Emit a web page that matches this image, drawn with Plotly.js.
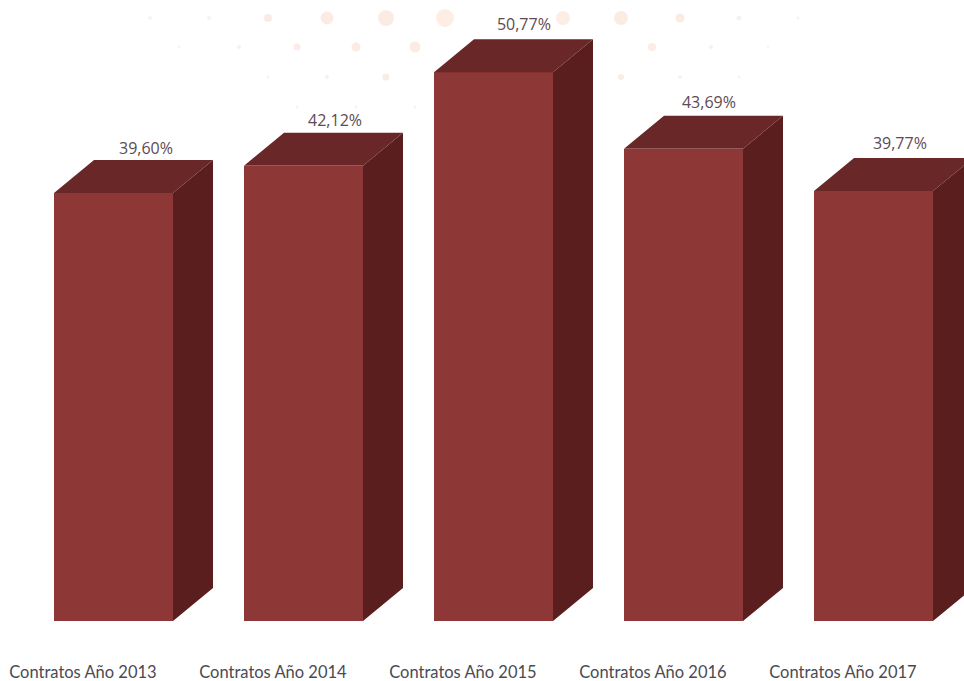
<!DOCTYPE html>
<html><head><meta charset="utf-8">
<script src="https://cdn.plot.ly/plotly-3.0.1.min.js"></script>
<style>html,body{margin:0;padding:0;background:#fff;overflow:hidden}#c{width:964px;height:681px}</style>
</head><body><div id="c"></div>
<script>
const categories = ["Contratos Año 2013","Contratos Año 2014","Contratos Año 2015","Contratos Año 2016","Contratos Año 2017"];
const values = [39.60,42.12,50.77,43.69,39.77];
const valueLabels = ["39,60%","42,12%","50,77%","43,69%","39,77%"];
const labelShift = [0.171,0.166,0.16,0.134,0.139];
const labelRise = [3.97,4.06,4.25,4.16,4.25];
// decorative background dots, in canvas pixels
const dotX = [150,209,268,327,386,445,563,621,680,739,798,179,239,297,356,415,652,711,768,268,327,386,621,680,739,297,356,415];
const dotY = [18,18,18,18,18,18,18,18,18,18,18,47,47,47,47,47,47,47,47,77,77,77,77,77,77,107,107,107];
const dotSize = [4,4,8,13,16,18,14,14,9,5,3,3,4,7,9,11,8,4,3,3,4,7,6,4,3,3,3,3];
const dotColor = ["#f0ecec","#f0ecec","#f8e2da","#fbe3d7","#fbe3d7","#fce5da","#fce5da","#fbe3d7","#fbe3d7","#efebea","#f3f0ef","#f3f0ef","#efebea","#fbe3dc","#fbe3d9","#fbe3d7","#fbe3dc","#efebea","#f3f0ef","#f3f0ef","#efebea","#fbe3d9","#fbe3dc","#f0ecec","#f3f0ef","#f3f0ef","#f3f0ef","#f3f0ef"];

const pxPerX = 190, pxPerY = 10.81;
const barW = 119/pxPerX, depthX = 40/pxPerX, depthY = 33/pxPerY;
const idx = categories.map((_,i)=>i);

const polys = (fn) => {
  const xs=[], ys=[];
  idx.forEach(i=>{ fn(i,values[i]).forEach(p=>{xs.push(p[0]);ys.push(p[1]);}); xs.push(null); ys.push(null); });
  return {xs,ys};
};
const side = polys((i,v)=>[[i+barW/2,0],[i+barW/2,v],[i+barW/2+depthX,v+depthY],[i+barW/2+depthX,depthY],[i+barW/2,0]]);
const top3d = polys((i,v)=>[[i-barW/2,v],[i-barW/2+depthX,v+depthY],[i+barW/2+depthX,v+depthY],[i+barW/2,v],[i-barW/2,v]]);

const traces = [
 {type:'scatter',mode:'markers',x:dotX,y:dotY,xaxis:'x',yaxis:'y',marker:{size:dotSize,color:dotColor,line:{width:0}},hoverinfo:'skip'},
 {type:'bar',x:idx,y:values,width:barW,xaxis:'x2',yaxis:'y2',marker:{color:'#8d3737',line:{width:0}},hoverinfo:'skip'},
 {type:'scatter',mode:'lines',x:side.xs,y:side.ys,xaxis:'x2',yaxis:'y2',fill:'toself',fillcolor:'#5a1e1e',line:{width:0},hoverinfo:'skip'},
 {type:'scatter',mode:'lines',x:top3d.xs,y:top3d.ys,xaxis:'x2',yaxis:'y2',fill:'toself',fillcolor:'#6a2727',line:{width:0},hoverinfo:'skip'},
 {type:'scatter',mode:'text',x:idx.map(i=>i+labelShift[i]),y:idx.map(i=>values[i]+labelRise[i]),text:valueLabels,xaxis:'x2',yaxis:'y2',textposition:'middle center',cliponaxis:false,
  textfont:{family:'"Open Sans",sans-serif',size:16,color:'#5e4a52'},hoverinfo:'skip'}
];
const layout = {
 width:964,height:681,showlegend:false,paper_bgcolor:'#fff',plot_bgcolor:'rgba(0,0,0,0)',
 margin:{l:0,r:0,t:0,b:60,pad:0},
 xaxis:{range:[0,964],visible:false,fixedrange:true},
 yaxis:{range:[621,0],visible:false,fixedrange:true},
 xaxis2:{overlaying:'x',anchor:'y2',range:[-113.5/pxPerX,(964-113.5)/pxPerX],tickmode:'array',tickvals:idx.map(i=>i-0.161),ticktext:categories,
   showgrid:false,zeroline:false,showline:false,ticks:'',ticklabelstandoff:39,automargin:false,tickangle:0,
   tickfont:{family:'Lato,"Open Sans",sans-serif',size:16.5,color:'#4b4a52'},fixedrange:true},
 yaxis2:{overlaying:'y',anchor:'x2',range:[0,621/pxPerY],visible:false,fixedrange:true},
 bargap:0
};
Plotly.newPlot('c',traces,layout,{displayModeBar:false,staticPlot:true});
</script></body></html>
